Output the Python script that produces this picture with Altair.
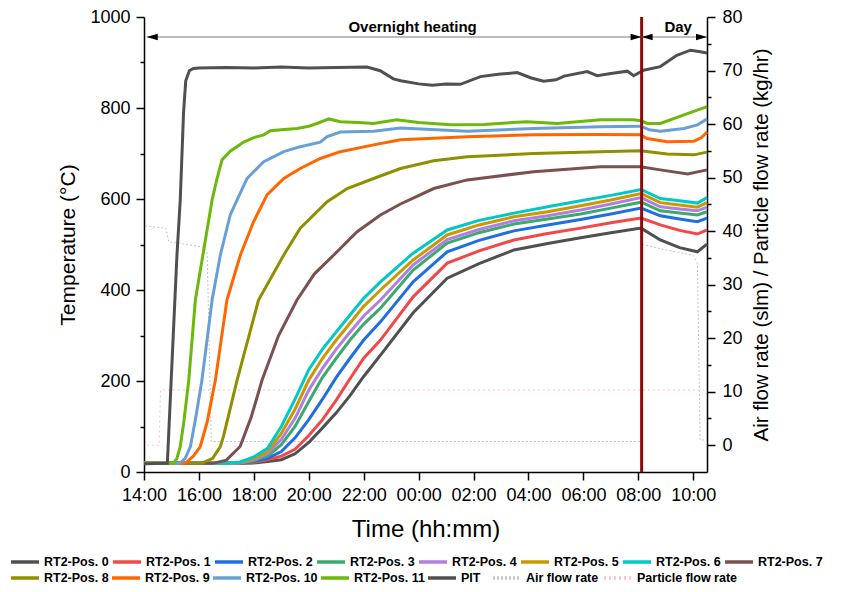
import altair as alt
import pandas as pd

# ---------------- data (time = hours after 14:00) ----------------
ROW1_SERIES = ["RT2-Pos. 0", "RT2-Pos. 1", "RT2-Pos. 2", "RT2-Pos. 3", "RT2-Pos. 4",
               "RT2-Pos. 5", "RT2-Pos. 6", "RT2-Pos. 7"]
ROW2_SERIES = ["RT2-Pos. 8", "RT2-Pos. 9", "RT2-Pos. 10", "RT2-Pos. 11", "PIT"]
FLOW_SERIES = ["Air flow rate", "Particle flow rate"]

# lower bundle (positions 0-6) share one time grid
bundle_t = [0, 3.0, 3.5, 4.0, 4.5, 5.0, 5.5, 6.0, 6.5, 7.0, 7.5, 8.0, 8.61, 9.8,
            11.04, 12.2, 13.47, 14.7, 15.9, 17.0, 18.1, 18.8, 19.5, 20.15, 20.5]
pos6 = [19, 19, 22, 33, 52, 100, 160, 225, 270, 308, 345, 382, 418, 481,
        532, 553, 569, 583, 596, 608, 621, 601, 596, 591, 603]
pos5 = [19, 19, 21, 29, 45, 85, 138, 202, 250, 290, 327, 364, 400, 466,
        521, 543, 561, 572, 585, 598, 612, 592, 587, 582, 592]
pos4 = [19, 19, 20, 27, 40, 72, 118, 180, 228, 270, 307, 343, 378, 455,
        511, 533, 552, 563, 576, 589, 603, 583, 578, 574, 582]
pos3 = [19, 19, 20, 25, 35, 60, 100, 155, 208, 250, 290, 325, 360, 444,
        503, 526, 545, 556, 567, 580, 593, 574, 569, 565, 572]
pos2 = [19, 19, 19, 23, 30, 45, 75, 115, 160, 208, 250, 290, 330, 418,
        484, 509, 530, 543, 555, 567, 580, 563, 556, 550, 558]
pos1 = [19, 19, 19, 21, 27, 35, 50, 80, 115, 158, 205, 250, 290, 385,
        459, 486, 510, 524, 536, 548, 558, 543, 531, 523, 532]
pos0 = [19, 19, 19, 20, 23, 27, 40, 65, 97, 130, 168, 210, 257, 350,
        426, 458, 488, 502, 515, 526, 536, 510, 493, 484, 501]

pos7_t = [0, 2.5, 3.0, 3.5, 3.9, 4.3, 4.9, 5.57, 6.2, 6.91, 7.76, 8.61, 9.34,
          10.55, 11.77, 14.19, 16.62, 18.08, 18.8, 19.8, 20.5]
pos7 = [19, 19, 26, 56, 120, 202, 300, 378, 435, 477, 528, 565, 589,
        623, 642, 660, 671, 671, 664, 655, 664]

pos8_t = [0, 2.1, 2.5, 2.78, 2.9, 3.39, 4.17, 5.09, 5.69, 6.67, 7.4, 8.36, 9.34,
          10.55, 11.77, 14.19, 16.62, 18.08, 19.05, 20.02, 20.5]
pos8 = [19, 19, 30, 56, 80, 202, 378, 477, 536, 594, 623, 645, 667,
        684, 693, 700, 704, 706, 699, 697, 703]

pos9_t = [0, 1.5, 1.8, 2.05, 2.3, 2.6, 3.02, 3.51, 3.99, 4.48, 5.09, 5.69, 6.42,
          7.15, 8.36, 9.34, 11.77, 14.19, 16.62, 18.08, 18.32, 19.05, 20.02, 20.3, 20.5]
pos9 = [19, 19, 35, 56, 110, 202, 378, 477, 550, 609, 645, 667, 689,
        704, 719, 730, 737, 741, 742, 741, 733, 726, 727, 735, 747]

pos10_t = [0, 1.3, 1.5, 1.69, 1.9, 2.11, 2.48, 2.78, 3.14, 3.39, 3.75, 4.36, 5.09,
           5.69, 6.42, 6.67, 7.15, 8.36, 9.34, 11.77, 14.19, 16.62, 18.08, 18.4,
           18.8, 19.66, 20.15, 20.5]
pos10 = [19, 19, 30, 56, 125, 202, 378, 477, 565, 598, 645, 682, 704,
         715, 725, 737, 747, 749, 756, 749, 755, 759, 760, 752,
         749, 755, 763, 776]

pos11_t = [0, 1.07, 1.2, 1.32, 1.45, 1.63, 1.87, 2.05, 2.17, 2.35, 2.48, 2.66, 2.84,
           3.14, 3.63, 4.0, 4.36, 4.6, 5.0, 5.57, 6.0, 6.3, 6.73, 7.15, 7.8, 8.36,
           9.2, 10.0, 11.16, 12.37, 13.95, 15.05, 16.62, 17.83, 18.1, 18.32, 18.8,
           19.66, 20.5]
pos11 = [19, 19, 30, 56, 110, 202, 378, 443, 486, 551, 598, 645, 686,
         705, 725, 735, 741, 750, 752, 755, 760, 766, 776, 770, 768, 766,
         774, 768, 763, 764, 770, 766, 774, 774, 772, 766, 766,
         785, 803]

pit_t = [0, 0.85, 0.99, 1.2, 1.32, 1.44, 1.52, 1.65, 1.8, 2.0, 3.0, 4.0, 5.0, 6.0,
         7.0, 8.12, 8.6, 9.08, 9.35, 10.0, 10.5, 11.0, 11.52, 12.25, 12.9, 13.59,
         14.1, 14.55, 15.0, 15.3, 16.14, 16.5, 17.0, 17.6, 17.83, 18.19, 18.8,
         19.4, 19.9, 20.2, 20.5]
pit = [18, 19, 202, 477, 598, 790, 860, 882, 887, 888, 889, 888, 890, 888,
       889, 890, 882, 864, 860, 853, 850, 853, 852, 869, 874, 878,
       866, 859, 862, 870, 880, 871, 876, 881, 871, 883, 891,
       916, 927, 924, 921]

# flow rates (right axis)
air_t = [0.05, 0.8, 0.9, 2.2, 2.3, 2.45, 18.1, 18.15, 19.0, 20.0, 20.15, 20.25, 20.5]
air = [41, 40.5, 38, 37, 36, 0.7, 0.7, 37.5, 36.5, 35.5, 34, 1, 1]
particle_t = [0.1, 0.55, 0.6, 20.4]
particle = [0, 0, 10.3, 10.3]

# annotations
day_start = 18.12
arrow_start = 0.1
time_end = 20.5
arrow_level = 956
label_level = 978
ann_labels = ["Overnight heating", "Day"]
ann_x = [9.78, 19.45]

# ---------------- styles ----------------
ROW1_COLORS = ["#505050", "#f24848", "#1f6fe0", "#3aaa6e", "#b07fe0", "#c89a00",
               "#00c8c8", "#7b5050"]
ROW2_COLORS = ["#8f8f00", "#ff6600", "#6a9fd6", "#6cb80c", "#505050"]
FLOW_COLORS = ["#c4c4c4", "#ffc0cb"]
FLOW_DASHES = [[2, 2], [2, 3]]
FONT = "Liberation Sans"


def frame(name, ts, vs):
    return pd.DataFrame({"t": ts, "v": vs, "series": name, "i": range(len(ts))})


row1_df = pd.concat([
    frame("RT2-Pos. 0", bundle_t, pos0), frame("RT2-Pos. 1", bundle_t, pos1),
    frame("RT2-Pos. 2", bundle_t, pos2), frame("RT2-Pos. 3", bundle_t, pos3),
    frame("RT2-Pos. 4", bundle_t, pos4), frame("RT2-Pos. 5", bundle_t, pos5),
    frame("RT2-Pos. 6", bundle_t, pos6), frame("RT2-Pos. 7", pos7_t, pos7),
], ignore_index=True)
row2_df = pd.concat([
    frame("RT2-Pos. 8", pos8_t, pos8), frame("RT2-Pos. 9", pos9_t, pos9),
    frame("RT2-Pos. 10", pos10_t, pos10), frame("RT2-Pos. 11", pos11_t, pos11),
    frame("PIT", pit_t, pit),
], ignore_index=True)
flow_df = pd.concat([
    frame("Air flow rate", air_t, air),
    frame("Particle flow rate", particle_t, particle),
], ignore_index=True)

xscale = alt.Scale(domain=[0, time_end], nice=False, zero=False)
x_axis = alt.Axis(
    values=list(range(0, 21)),
    labelExpr="datum.value % 2 === 0 ? ((((datum.value + 14) % 24) < 10 ? '0' : '') + ((datum.value + 14) % 24) + ':00') : ''",
    tickSize={"condition": {"test": "datum.value % 2 !== 0", "value": 4}, "value": 8},
    labelPadding=6, titlePadding=13, labelFlush=False, labelOverlap=False,
    titleFontSize=24,
)
left_axis = alt.Axis(
    orient="left", values=list(range(0, 1001, 100)),
    labelExpr="datum.value % 200 === 0 ? datum.label : ''",
    tickSize={"condition": {"test": "datum.value % 200 !== 0", "value": 4}, "value": 8},
    labelPadding=6, titlePadding=11, format="d", labelOverlap=False,
    titleFontSize=21,
)
right_axis = alt.Axis(
    orient="right", values=list(range(0, 81, 5)),
    labelExpr="datum.value % 10 === 0 ? datum.label : ''",
    tickSize={"condition": {"test": "datum.value % 10 !== 0", "value": 4}, "value": 8},
    labelPadding=7, titlePadding=9, titleAngle=270, titleBaseline="top",
    format="d", labelOverlap=False, titleFontSize=20.5,
)

legend_style = dict(
    title=None, orient="none", direction="horizontal", symbolType="stroke",
    symbolSize=784, symbolStrokeWidth=3.5, labelFont=FONT, labelFontSize=12.5,
    labelFontWeight="bold", labelColor="black", labelOffset=3,
    labelLimit=300, padding=0,
)
row1_legend = alt.Legend(legendX=-135, legendY=529, columns=8, columnPadding=-3, **legend_style)
row2_legend = alt.Legend(legendX=-135, legendY=545, columns=5, columnPadding=-4, **legend_style)
flow_legend = alt.Legend(legendX=347, legendY=545, columns=2, columnPadding=-2, **legend_style)

order = alt.Order("i:Q")
yscale_t = alt.Scale(domain=[0, 1000], nice=False, zero=False)

flow = alt.Chart(flow_df).mark_line(strokeWidth=1).encode(
    x=alt.X("t:Q", scale=xscale, axis=x_axis, title="Time (hh:mm)"),
    y=alt.Y("v:Q", scale=alt.Scale(domain=[-5, 80], nice=False, zero=False),
            axis=right_axis, title="Air flow rate (slm) / Particle flow rate (kg/hr)"),
    color=alt.Color("series:N", scale=alt.Scale(domain=FLOW_SERIES, range=FLOW_COLORS),
                    legend=flow_legend),
    strokeDash=alt.StrokeDash("series:N", scale=alt.Scale(domain=FLOW_SERIES, range=FLOW_DASHES),
                              legend=flow_legend),
    order=order,
)

temp1 = alt.Chart(row1_df).mark_line(strokeWidth=3).encode(
    x=alt.X("t:Q", scale=xscale, axis=x_axis, title="Time (hh:mm)"),
    y=alt.Y("v:Q", scale=yscale_t, axis=left_axis, title="Temperature (°C)"),
    color=alt.Color("series:N", scale=alt.Scale(domain=ROW1_SERIES, range=ROW1_COLORS),
                    legend=row1_legend),
    order=order,
)
temp2 = alt.Chart(row2_df).mark_line(strokeWidth=3).encode(
    x=alt.X("t:Q", scale=xscale),
    y=alt.Y("v:Q", scale=yscale_t, axis=None),
    color=alt.Color("series:N", scale=alt.Scale(domain=ROW2_SERIES, range=ROW2_COLORS),
                    legend=row2_legend),
    order=order,
)

rule = alt.Chart(pd.DataFrame({"t": [day_start]})).mark_rule(
    color="#8b0a0a", strokeWidth=3).encode(x=alt.X("t:Q", scale=xscale))

arrows_df = pd.DataFrame({"x1": [arrow_start, day_start], "x2": [day_start, time_end],
                          "y": [arrow_level, arrow_level]})
arrows = alt.Chart(arrows_df).mark_rule(color="#7a7a7a", strokeWidth=1.2).encode(
    x=alt.X("x1:Q", scale=xscale), x2="x2:Q",
    y=alt.Y("y:Q", scale=yscale_t, axis=None))

heads_l = alt.Chart(pd.DataFrame({"x": [arrow_start, day_start], "y": [arrow_level] * 2})).mark_point(
    shape="M -1 0 L 1 -0.6 L 1 0.6 Z", filled=True, color="black", opacity=1,
    size=121, xOffset=5.5).encode(
    x=alt.X("x:Q", scale=xscale), y=alt.Y("y:Q", scale=yscale_t, axis=None))
heads_r = alt.Chart(pd.DataFrame({"x": [day_start, time_end], "y": [arrow_level] * 2})).mark_point(
    shape="M 1 0 L -1 -0.6 L -1 0.6 Z", filled=True, color="black", opacity=1,
    size=121, xOffset=-5.5).encode(
    x=alt.X("x:Q", scale=xscale), y=alt.Y("y:Q", scale=yscale_t, axis=None))

texts = alt.Chart(pd.DataFrame({"x": ann_x, "y": [label_level] * 2, "label": ann_labels})).mark_text(
    font=FONT, fontSize=15, fontWeight="bold", color="black", baseline="middle").encode(
    x=alt.X("x:Q", scale=xscale), y=alt.Y("y:Q", scale=yscale_t, axis=None), text="label:N")

chart = alt.layer(flow, temp1, temp2, rule, arrows, heads_l, heads_r, texts).resolve_scale(
    y="independent", color="independent", strokeDash="independent"
).properties(
    width=563, height=455,
    padding={"left": 136, "top": 9, "right": 128, "bottom": 112},
    autosize=alt.AutoSizeParams(type="none"),
).configure_view(stroke=None).configure_axis(
    labelFont=FONT, titleFont=FONT, labelFontSize=18,
    titleFontWeight="normal", labelColor="black", titleColor="black",
    domainColor="black", tickColor="black", domainWidth=1.5, tickWidth=1.5, grid=False,
)

chart.save("out.html", embed_options={"renderer": "svg", "actions": False})
